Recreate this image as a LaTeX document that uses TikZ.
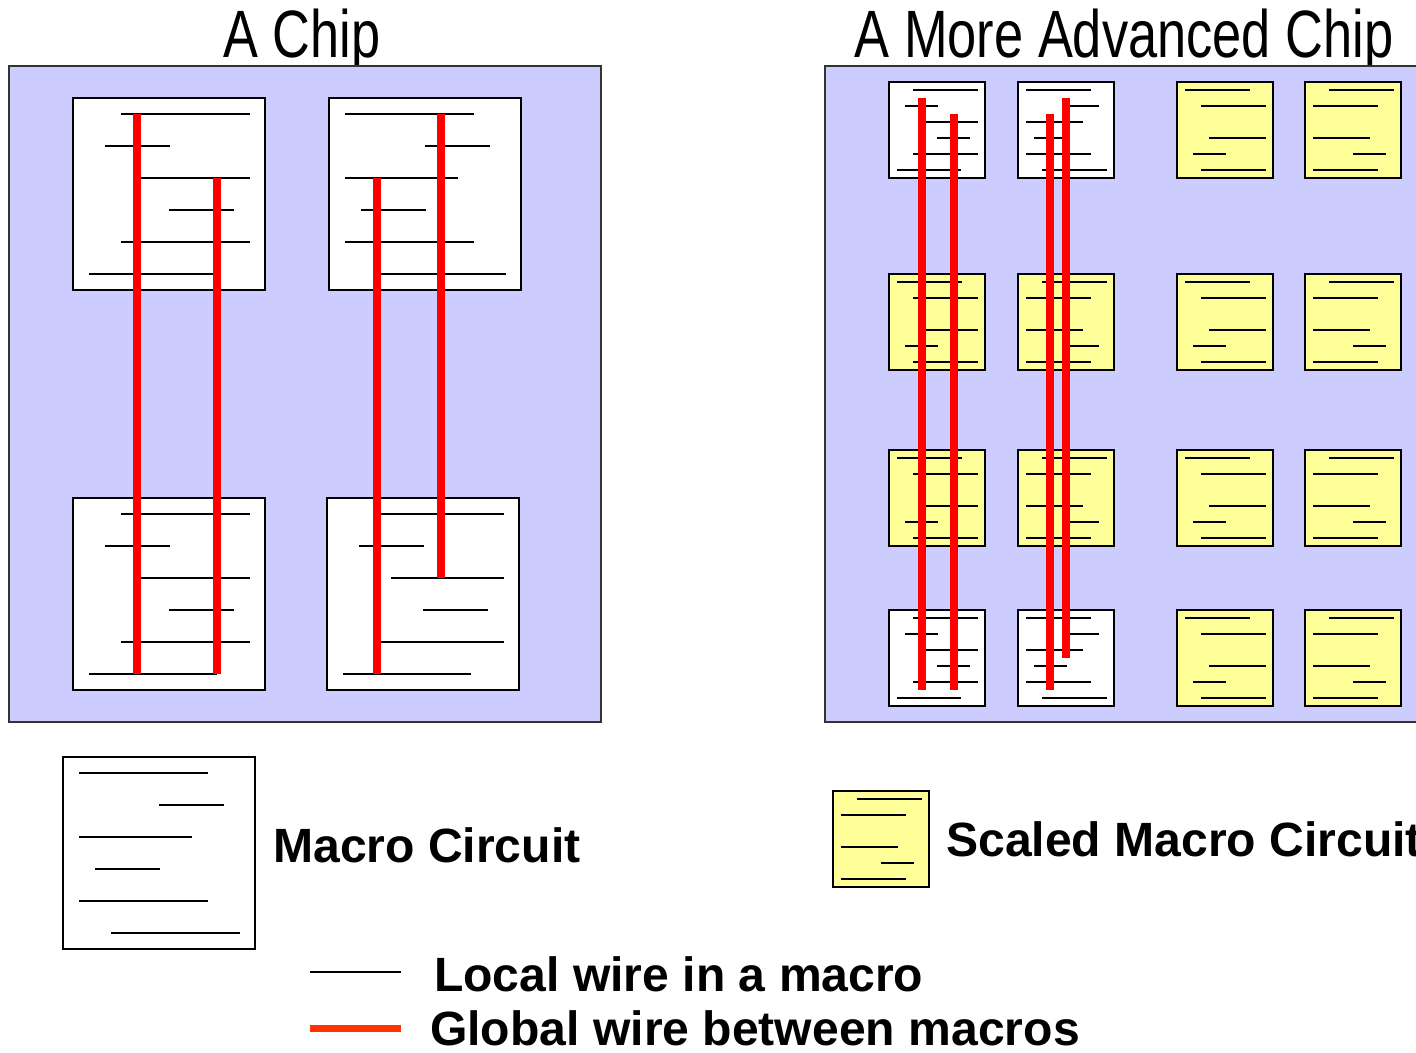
\documentclass[tikz,border=0pt]{standalone}
\usepackage{fontspec}
\setmainfont{Liberation Sans}
\usepackage{graphicx}
\usetikzlibrary{calc}
\definecolor{chipbg}{HTML}{CCCCFF}
\definecolor{macroyellow}{HTML}{FFFF99}
\definecolor{wirered}{HTML}{FF0000}
\definecolor{legendred}{HTML}{FF3300}

\def\patA{16/48/177,48/32/97,80/64/177,112/96/161,144/48/177,176/16/144}
\def\patB{16/16/145,48/96/161,80/16/129,112/32/97,144/16/145,176/48/177}
\def\patC{16/16/146,48/48/178,112/64/178,144/32/98,176/48/178}
\def\patD{16/48/178,48/16/146,112/16/130,144/96/162,176/16/146}

\tikzset{
  chipbox/.style={draw=black!80, line width=1.2pt, fill=chipbg},
  macrobox/.style={draw=black, line width=1.4pt, anchor=north west, inner sep=0pt, outer sep=0pt},
  localwire/.style={draw=black, line width=1.2pt},
  globalwire/.style={draw=wirered, line width=8pt},
  titletext/.style={anchor=base, inner sep=0pt, font=\fontsize{67}{70}\selectfont},
  labeltext/.style={anchor=base west, inner sep=0pt, font=\bfseries\fontsize{48.1}{50}\selectfont},
}

\newcommand\drawmacro[6]{%
  \node[macrobox, fill=#5, minimum size={192pt*#4}] (#1) at (#2,#3) {};
  \begin{scope}[shift={(#2,#3)}, scale=#4]
    \foreach \yy/\xa/\xb in #6 {\draw[localwire] (\xa,\yy) -- (\xb,\yy);}
  \end{scope}}

\begin{document}
\begin{tikzpicture}[x=1pt,y=-1pt]
\useasboundingbox (0,0) rectangle (1416,1052);

% titles
\node[titletext] (t1) at (302,57) {\scalebox{0.78}[1]{A Chip}};
\node[titletext] (t2) at (1124,57) {\scalebox{0.782}[1]{A More Advanced Chip}};

% chip A
\path[chipbox] (9,66) rectangle (601,722);
\drawmacro{aTL}{73}{98}{1}{white}{\patA}
\drawmacro{aTR}{329}{98}{1}{white}{\patB}
\drawmacro{aBL}{73}{498}{1}{white}{\patA}
\drawmacro{aBR}{327}{498}{1}{white}{\patA}
\draw[globalwire] ($(aTL.north west)+(64,16)$) -- ($(aBL.north west)+(64,176)$);
\draw[globalwire] ($(aTL.north west)+(144,80)$) -- ($(aBL.north west)+(144,176)$);
\draw[globalwire] ($(aTR.north west)+(48,80)$) -- ($(aBR.north west)+(50,176)$);
\draw[globalwire] ($(aTR.north west)+(112,16)$) -- ($(aBR.north west)+(114,80)$);

% chip B
\path[chipbox] (825,66) rectangle (1440,722);
\drawmacro{b11}{889}{82}{0.5}{white}{\patA}
\drawmacro{b12}{1018}{82}{0.5}{white}{\patB}
\drawmacro{b13}{1177}{82}{0.5}{macroyellow}{\patC}
\drawmacro{b14}{1305}{82}{0.5}{macroyellow}{\patD}
\drawmacro{b21}{889}{274}{0.5}{macroyellow}{\patC}
\drawmacro{b22}{1018}{274}{0.5}{macroyellow}{\patD}
\drawmacro{b23}{1177}{274}{0.5}{macroyellow}{\patC}
\drawmacro{b24}{1305}{274}{0.5}{macroyellow}{\patD}
\drawmacro{b31}{889}{450}{0.5}{macroyellow}{\patC}
\drawmacro{b32}{1018}{450}{0.5}{macroyellow}{\patD}
\drawmacro{b33}{1177}{450}{0.5}{macroyellow}{\patC}
\drawmacro{b34}{1305}{450}{0.5}{macroyellow}{\patD}
\drawmacro{b41}{889}{610}{0.5}{white}{\patA}
\drawmacro{b42}{1018}{610}{0.5}{white}{\patB}
\drawmacro{b43}{1177}{610}{0.5}{macroyellow}{\patC}
\drawmacro{b44}{1305}{610}{0.5}{macroyellow}{\patD}
\draw[globalwire] ($(b11.north west)+(32.5,16)$) -- ($(b41.north west)+(32.5,80)$);
\draw[globalwire] ($(b11.north west)+(64.5,32)$) -- ($(b41.north west)+(64.5,80)$);
\draw[globalwire] ($(b12.north west)+(31.5,32)$) -- ($(b42.north west)+(31.5,80)$);
\draw[globalwire] ($(b12.north west)+(47.5,16)$) -- ($(b42.north west)+(47.5,48)$);

% legend
\drawmacro{legMacro}{63}{757}{1}{white}{\patB}
\node[labeltext] (legMacroText) at (273,862) {Macro Circuit};
\drawmacro{legScaled}{833}{791}{0.5}{macroyellow}{\patD}
\node[labeltext] (legScaledText) at (946,856) {Scaled Macro Circuit};

\coordinate (lw1) at (310,972);
\coordinate (lw2) at (401,972);
\draw[line width=1.2pt] (lw1) -- (lw2);
\node[labeltext] (lwText) at (434,991) {Local wire in a macro};
\coordinate (gw1) at (310,1028);
\coordinate (gw2) at (401,1028);
\draw[draw=legendred, line width=7pt] (gw1) -- (gw2);
\node[labeltext] (gwText) at (430,1045) {Global wire between macros};
\end{tikzpicture}
\end{document}
